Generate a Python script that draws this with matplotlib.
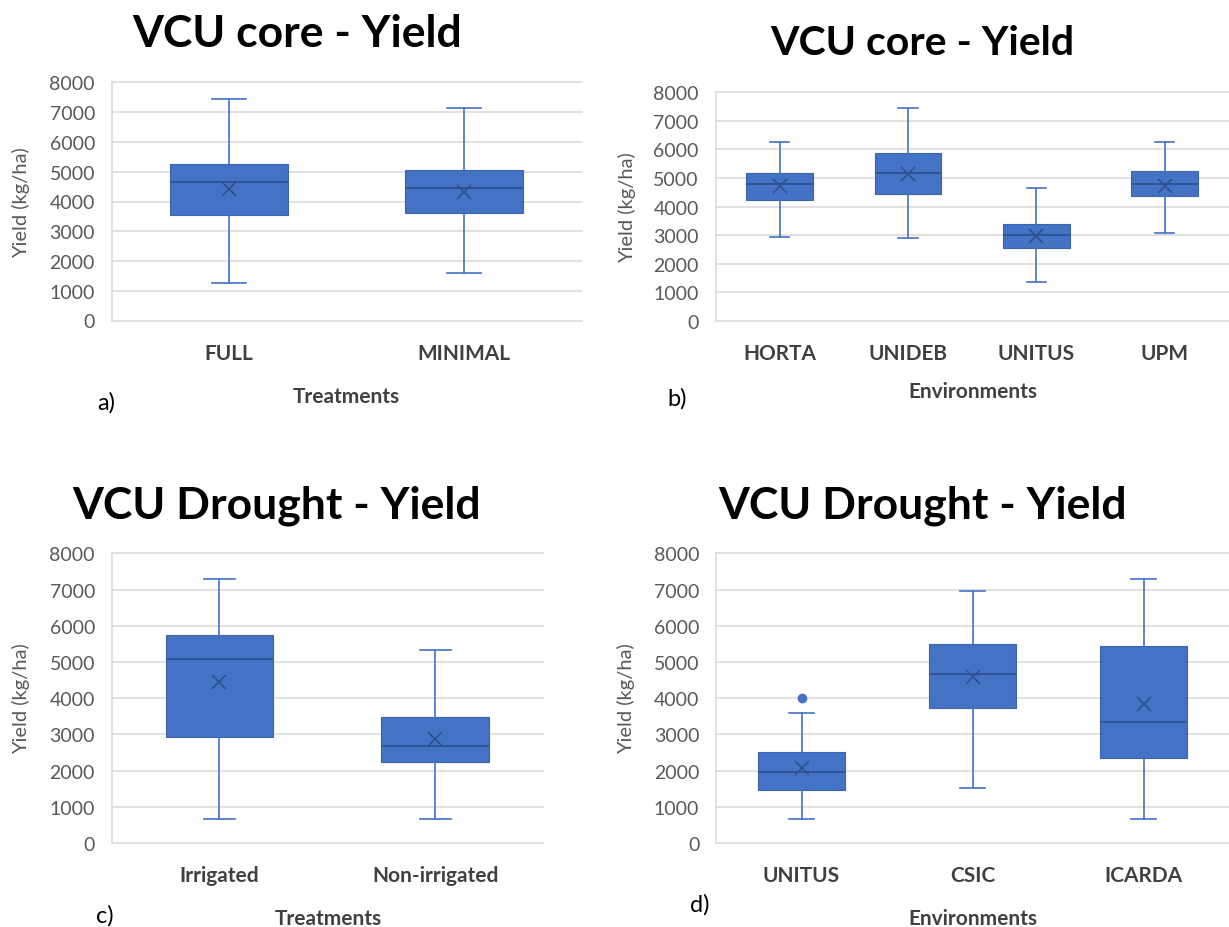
import matplotlib.pyplot as plt

plt.rcParams["font.family"] = ["Lato", "DejaVu Sans"]

W, H = 1229, 928

# a) VCU core - treatments
core_trt = ["FULL", "MINIMAL"]
core_trt_low = [1270, 1580]
core_trt_q1 = [3560, 3620]
core_trt_med = [4650, 4440]
core_trt_mean = [4430, 4330]
core_trt_q3 = [5260, 5070]
core_trt_high = [7440, 7130]

# b) VCU core - environments
core_env = ["HORTA", "UNIDEB", "UNITUS", "UPM"]
core_env_low = [2945, 2890, 1375, 3065]
core_env_q1 = [4230, 4440, 2550, 4355]
core_env_med = [4775, 5170, 3015, 4775]
core_env_mean = [4705, 5150, 2960, 4705]
core_env_q3 = [5170, 5870, 3390, 5230]
core_env_high = [6265, 7440, 4635, 6265]

# c) VCU drought - treatments
dr_trt = ["Irrigated", "Non-irrigated"]
dr_trt_low = [660, 660]
dr_trt_q1 = [2920, 2245]
dr_trt_med = [5080, 2670]
dr_trt_mean = [4455, 2870]
dr_trt_q3 = [5750, 3490]
dr_trt_high = [7290, 5330]

# d) VCU drought - environments
dr_env = ["UNITUS", "CSIC", "ICARDA"]
dr_env_low = [660, 1530, 660]
dr_env_q1 = [1460, 3740, 2340]
dr_env_med = [1950, 4660, 3330]
dr_env_mean = [2060, 4580, 3840]
dr_env_q3 = [2500, 5500, 5440]
dr_env_high = [3580, 6970, 7290]
dr_env_outliers = [[4000], [], []]

BLUE = "#4472C4"
EDGE = "#3A64B0"
DARK = "#2F528F"
GRID = "#D9D9D9"
TICK = "#595959"
LABEL = "#404040"

fig = plt.figure(figsize=(W / 100, H / 100), dpi=100)


def px_axes(left, top, right, bottom):
    return fig.add_axes([left / W, 1 - bottom / H, (right - left) / W, (bottom - top) / H])


def px_text(x, y, s, **kw):
    fig.text(x / W, 1 - y / H, s, **kw)


def make_stats(labels, low, q1, med, mean, q3, high, fliers=None):
    if fliers is None:
        fliers = [[] for _ in labels]
    return [
        dict(label=lab, whislo=a, q1=b, med=c, mean=d, q3=e, whishi=f, fliers=g)
        for lab, a, b, c, d, e, f, g in zip(labels, low, q1, med, mean, q3, high, fliers)
    ]


def draw_panel(ax, stats, width):
    ax.bxp(
        stats,
        positions=range(len(stats)),
        widths=width,
        capwidths=width * 0.29,
        patch_artist=True,
        showmeans=True,
        boxprops=dict(facecolor=BLUE, edgecolor=EDGE, linewidth=0.8),
        medianprops=dict(color=DARK, linewidth=1.3),
        whiskerprops=dict(color=BLUE, linewidth=1.2),
        capprops=dict(color=BLUE, linewidth=1.2),
        meanprops=dict(marker="x", markeredgecolor=DARK, markersize=10, markeredgewidth=1.2),
        flierprops=dict(marker="o", markerfacecolor=BLUE, markeredgecolor=BLUE, markersize=6),
    )
    ax.set_xlim(-0.5, len(stats) - 0.5)
    ax.set_ylim(0, 8000)
    ax.set_yticks(range(0, 8001, 1000))
    ax.yaxis.grid(True, color=GRID, linewidth=1.1)
    for gl in ax.get_ygridlines():
        gl.set_clip_on(False)
    ax.set_axisbelow(True)
    for side in ["top", "right", "bottom"]:
        ax.spines[side].set_visible(False)
    ax.spines["left"].set_color(GRID)
    ax.spines["left"].set_linewidth(1.1)
    ax.tick_params(axis="both", length=0)
    ax.tick_params(axis="y", pad=12, labelsize=14, labelcolor=TICK)
    ax.tick_params(axis="x", pad=16, labelsize=15, labelcolor=LABEL)
    for lbl in ax.get_xticklabels():
        lbl.set_fontweight("bold")


ax_a = px_axes(111.6, 83.5, 581.7, 321.5)
draw_panel(ax_a, make_stats(core_trt, core_trt_low, core_trt_q1, core_trt_med,
                            core_trt_mean, core_trt_q3, core_trt_high), 0.5)

ax_b = px_axes(715.5, 93, 1229, 322)
draw_panel(ax_b, make_stats(core_env, core_env_low, core_env_q1, core_env_med,
                            core_env_mean, core_env_q3, core_env_high), 0.52)

ax_c = px_axes(111.6, 554.3, 543, 844)
draw_panel(ax_c, make_stats(dr_trt, dr_trt_low, dr_trt_q1, dr_trt_med,
                            dr_trt_mean, dr_trt_q3, dr_trt_high), 0.5)

ax_d = px_axes(716, 554.3, 1229, 844)
draw_panel(ax_d, make_stats(dr_env, dr_env_low, dr_env_q1, dr_env_med,
                            dr_env_mean, dr_env_q3, dr_env_high, dr_env_outliers), 0.507)

# titles
title_kw = dict(ha="center", va="baseline", fontweight="bold", color="black")
px_text(297, 47, "VCU core - Yield", fontsize=32, **title_kw)
px_text(922.6, 55, "VCU core - Yield", fontsize=29.5, **title_kw)
px_text(277, 518, "VCU Drought - Yield", fontsize=32, **title_kw)
px_text(922.6, 518, "VCU Drought - Yield", fontsize=32, **title_kw)

# axis titles
xl_kw = dict(ha="center", va="baseline", fontweight="bold", fontsize=15, color=LABEL)
px_text(346, 403, "Treatments", **xl_kw)
px_text(973, 398, "Environments", **xl_kw)
px_text(328, 925, "Treatments", **xl_kw)
px_text(973, 925, "Environments", **xl_kw)

yl_kw = dict(ha="center", va="center", rotation=90, fontsize=14.5, color=TICK)
px_text(21, 202.5, "Yield (kg/ha)", **yl_kw)
px_text(627, 207.5, "Yield (kg/ha)", **yl_kw)
px_text(21, 699, "Yield (kg/ha)", **yl_kw)
px_text(626, 699, "Yield (kg/ha)", **yl_kw)

# panel letters
pl_kw = dict(ha="center", va="center", fontsize=17, color="black")
px_text(106, 403, "a)", **pl_kw)
px_text(677, 399, "b)", **pl_kw)
px_text(105, 916, "c)", **pl_kw)
px_text(699.5, 905, "d)", **pl_kw)

fig.savefig("out.png", dpi=100, facecolor="white")
